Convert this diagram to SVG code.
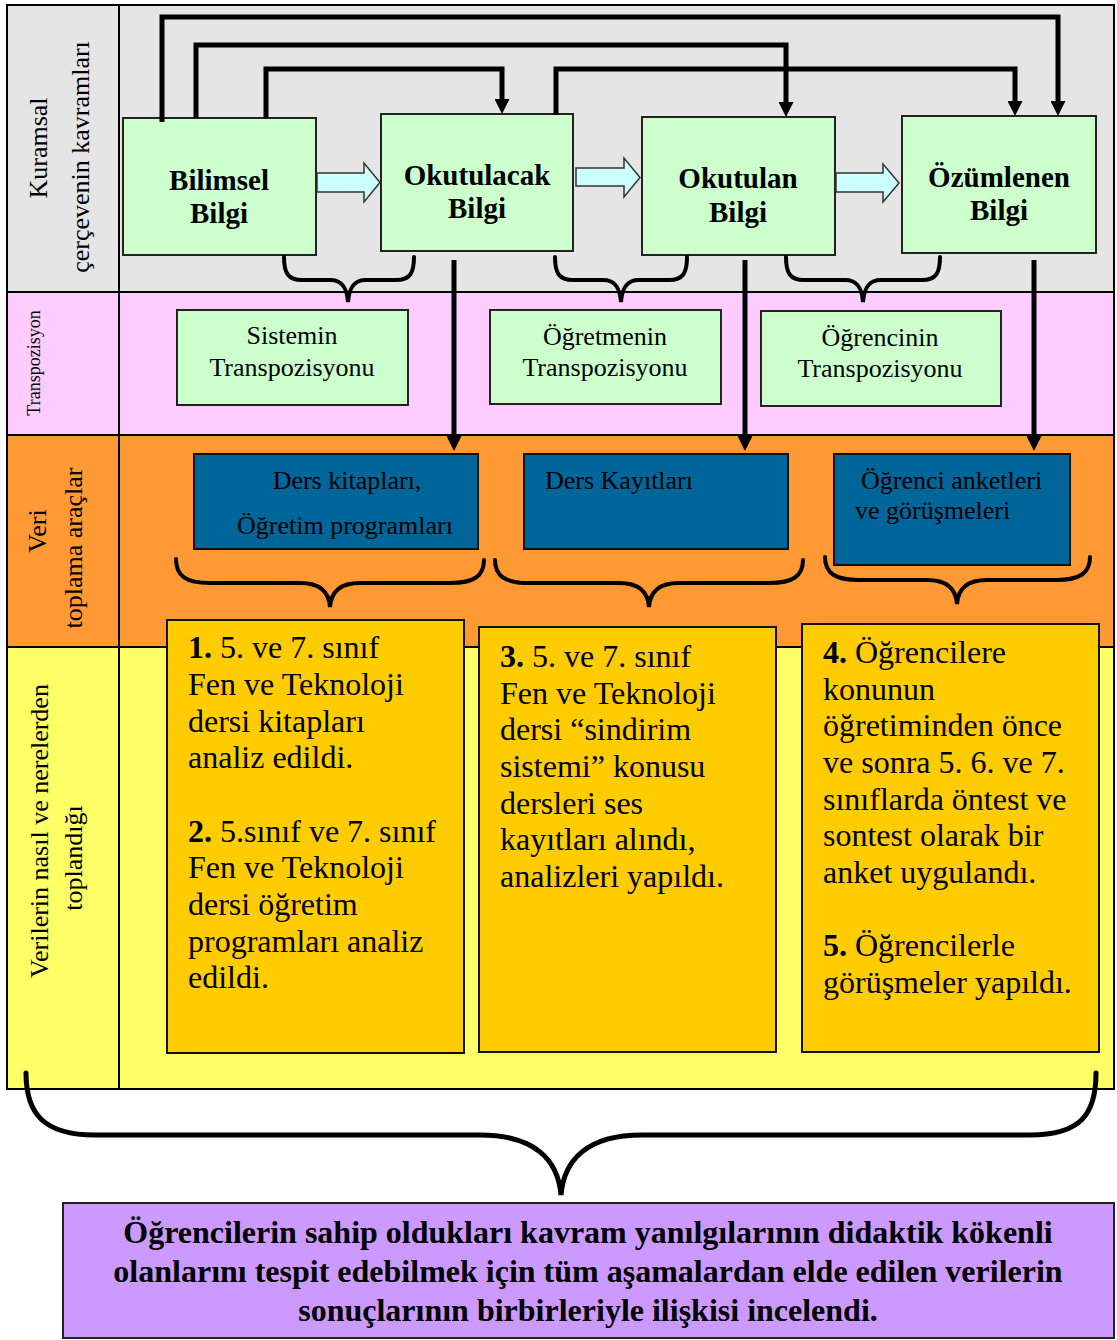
<svg xmlns="http://www.w3.org/2000/svg" width="1117" height="1340" viewBox="0 0 1117 1340" font-family="'Liberation Serif', 'DejaVu Serif', serif">
  <defs>
    <style>
      text { font-family: 'Liberation Serif', 'DejaVu Serif', serif; fill: #000; }
      .node { fill: #CCFFCC; stroke: #222; stroke-width: 2; }
      .tbox { fill: #CCFFCC; stroke: #222; stroke-width: 2; }
      .dbox { fill: #006699; stroke: #111; stroke-width: 2; }
      .ybox { fill: #FFCC00; stroke: #111; stroke-width: 2; }
      .grid { fill: none; stroke: #000; stroke-width: 2; }
      .conn { fill: none; stroke: #000; stroke-width: 5; stroke-linejoin: miter; marker-end: url(#head); }
      .brace { fill: none; stroke: #000; stroke-width: 4; stroke-linecap: round; }
      .block { fill: #CCFFFF; stroke: #333; stroke-width: 1.5; }
      .ttl { font-size: 29px; font-weight: bold; text-anchor: middle; }
      .tr { font-size: 26px; text-anchor: middle; }
      .side { font-size: 26px; text-anchor: middle; }
      .body { font-size: 32px; }
      .dt { font-size: 26px; }
      .sum { font-size: 32px; font-weight: bold; text-anchor: middle; }
    </style>
    <marker id="head" viewBox="0 0 15 15" refX="0" refY="7.5" markerWidth="15" markerHeight="15" markerUnits="userSpaceOnUse" orient="auto">
      <path d="M0,0 L15,7.5 L0,15 Z" fill="#000"/>
    </marker>
  </defs>

  <!-- Row bands -->
  <g id="bands">
    <rect x="7" y="5" width="1107" height="287" fill="#E5E5E5"/>
    <rect x="7" y="292" width="1107" height="143" fill="#FFCCFF"/>
    <rect x="7" y="435" width="1107" height="212" fill="#FF9933"/>
    <rect x="7" y="647" width="1107" height="442" fill="#FFFF66"/>
    <rect class="grid" x="7" y="5" width="1107" height="1084"/>
    <line class="grid" x1="119" y1="5" x2="119" y2="1089"/>
    <line class="grid" x1="7" y1="292" x2="1114" y2="292"/>
    <line class="grid" x1="7" y1="435" x2="1114" y2="435"/>
    <line class="grid" x1="7" y1="647" x2="1114" y2="647"/>
  </g>

  <!-- Row titles -->
  <g id="row-titles">
    <text class="side" transform="translate(47,148) rotate(-90)">Kuramsal</text>
    <text class="side" transform="translate(89,157) rotate(-90)">çerçevenin kavramları</text>
    <text class="side" style="font-size:18px" transform="translate(40,363) rotate(-90)">Transpozisyon</text>
    <text class="side" transform="translate(46,531) rotate(-90)">Veri</text>
    <text class="side" transform="translate(82,548) rotate(-90)">toplama araçlar</text>
    <text class="side" transform="translate(47.5,831) rotate(-90)">Verilerin nasıl ve nerelerden</text>
    <text class="side" transform="translate(82,858) rotate(-90)">toplandığı</text>
  </g>

  <!-- Knowledge nodes -->
  <g id="bilimsel">
    <rect class="node" x="123" y="118" width="193" height="137"/>
    <text class="ttl" x="219" y="190">Bilimsel</text>
    <text class="ttl" x="219" y="223">Bilgi</text>
  </g>
  <g id="okutulacak">
    <rect class="node" x="381" y="114" width="192" height="137"/>
    <text class="ttl" x="477" y="185">Okutulacak</text>
    <text class="ttl" x="477" y="218">Bilgi</text>
  </g>
  <g id="okutulan">
    <rect class="node" x="642" y="117" width="193" height="138"/>
    <text class="ttl" x="738" y="188">Okutulan</text>
    <text class="ttl" x="738" y="222">Bilgi</text>
  </g>
  <g id="ozumlenen">
    <rect class="node" x="902" y="116" width="194" height="137"/>
    <text class="ttl" x="999" y="187">Özümlenen</text>
    <text class="ttl" x="999" y="220">Bilgi</text>
  </g>

  <!-- Transposition nodes -->
  <g id="sistemin">
    <rect class="tbox" x="177" y="310" width="231" height="95"/>
    <text class="tr" x="292" y="344">Sistemin</text>
    <text class="tr" x="292" y="376">Transpozisyonu</text>
  </g>
  <g id="ogretmenin">
    <rect class="tbox" x="490" y="310" width="231" height="94"/>
    <text class="tr" x="605" y="345">Öğretmenin</text>
    <text class="tr" x="605" y="376">Transpozisyonu</text>
  </g>
  <g id="ogrencinin">
    <rect class="tbox" x="761" y="311" width="240" height="95"/>
    <text class="tr" x="880" y="346">Öğrencinin</text>
    <text class="tr" x="880" y="377">Transpozisyonu</text>
  </g>

  <!-- Data collection tools -->
  <g id="ders-kitaplari">
    <rect class="dbox" x="194" y="454" width="284" height="95"/>
    <text class="dt" x="347" y="489" text-anchor="middle">Ders kitapları,</text>
    <text class="dt" x="345" y="534" text-anchor="middle">Öğretim programları</text>
  </g>
  <g id="ders-kayitlari">
    <rect class="dbox" x="524" y="454" width="264" height="95"/>
    <text class="dt" x="545" y="489">Ders Kayıtları</text>
  </g>
  <g id="ogrenci-anketleri">
    <rect class="dbox" x="834" y="454" width="236" height="111"/>
    <text class="dt" x="861" y="489">Öğrenci anketleri</text>
    <text class="dt" x="855" y="519">ve görüşmeleri</text>
  </g>

  <!-- How the data were collected -->
  <g id="veri-1-2">
    <rect class="ybox" x="167" y="620" width="297" height="433"/>
    <text class="body" x="188" y="658"><tspan font-weight="bold">1.</tspan> 5. ve 7. sınıf</text>
    <text class="body" x="188" y="695">Fen ve Teknoloji</text>
    <text class="body" x="188" y="732">dersi kitapları</text>
    <text class="body" x="188" y="768">analiz edildi.</text>
    <text class="body" x="188" y="842"><tspan font-weight="bold">2.</tspan> 5.sınıf ve 7. sınıf</text>
    <text class="body" x="188" y="878">Fen ve Teknoloji</text>
    <text class="body" x="188" y="915">dersi öğretim</text>
    <text class="body" x="188" y="952">programları analiz</text>
    <text class="body" x="188" y="988">edildi.</text>
  </g>
  <g id="veri-3">
    <rect class="ybox" x="479" y="627" width="297" height="425"/>
    <text class="body" x="500" y="667"><tspan font-weight="bold">3.</tspan> 5. ve 7. sınıf</text>
    <text class="body" x="500" y="704">Fen ve Teknoloji</text>
    <text class="body" x="500" y="740">dersi “sindirim</text>
    <text class="body" x="500" y="777">sistemi” konusu</text>
    <text class="body" x="500" y="814">dersleri ses</text>
    <text class="body" x="500" y="850">kayıtları alındı,</text>
    <text class="body" x="500" y="887">analizleri yapıldı.</text>
  </g>
  <g id="veri-4-5">
    <rect class="ybox" x="802" y="624" width="297" height="428"/>
    <text class="body" x="823" y="663"><tspan font-weight="bold">4.</tspan> Öğrencilere</text>
    <text class="body" x="823" y="700">konunun</text>
    <text class="body" x="823" y="736">öğretiminden önce</text>
    <text class="body" x="823" y="773">ve sonra 5. 6. ve 7.</text>
    <text class="body" x="823" y="810">sınıflarda öntest ve</text>
    <text class="body" x="823" y="846">sontest olarak bir</text>
    <text class="body" x="823" y="883">anket uygulandı.</text>
    <text class="body" x="823" y="956"><tspan font-weight="bold">5.</tspan> Öğrencilerle</text>
    <text class="body" x="823" y="993">görüşmeler yapıldı.</text>
  </g>

  <!-- Conclusion -->
  <g id="sonuc">
    <rect x="63" y="1203" width="1051" height="135" fill="#CC99FF" stroke="#222" stroke-width="2"/>
    <text class="sum" x="588" y="1243">Öğrencilerin sahip oldukları kavram yanılgılarının didaktik kökenli</text>
    <text class="sum" x="588" y="1282">olanlarını tespit edebilmek için tüm aşamalardan elde edilen verilerin</text>
    <text class="sum" x="588" y="1321">sonuçlarının birbirleriyle ilişkisi incelendi.</text>
  </g>

  <!-- Connectors -->
  <g id="connectors">
    <!-- block arrows between knowledge stages -->
    <path class="block" d="M317,173 H364 V163 L380,182.5 L364,202 V192 H317 Z"/>
    <path class="block" d="M576,168 H624 V158 L640,177.5 L624,197 V186 H576 Z"/>
    <path class="block" d="M836,173 H883 V164 L899,183 L883,202 V192 H836 Z"/>

    <!-- elbow links over the top -->
    <path class="conn" d="M162,122 V17 H1058 V101"/>
    <path class="conn" d="M196,118 V45 H786 V102"/>
    <path class="conn" d="M266,118 V69 H502 V99"/>
    <path class="conn" d="M556,115 V69 H1015 V101"/>

    <!-- links down to the data tools -->
    <path class="conn" d="M454,260 V436"/>
    <path class="conn" d="M745,260 V436"/>
    <path class="conn" d="M1034,260 V436"/>

    <!-- braces under the knowledge nodes -->
    <path class="brace" d="M284,257 C284,273 288,280 302,280 L330,280 C343,280 347,289 348,302 C349,289 353,280 366,280 L396,280 C410,280 414,273 414,257"/>
    <path class="brace" d="M555,257 C555,273 559,280 573,280 L603,280 C616,280 620,289 621,302 C622,289 626,280 639,280 L669,280 C683,280 687,273 687,257"/>
    <path class="brace" d="M786,257 C786,273 790,280 804,280 L845,280 C858,280 862,289 863,302 C864,289 868,280 881,280 L922,280 C936,280 940,273 940,257"/>

    <!-- braces under the data tools -->
    <path class="brace" d="M176,559 C176,576 186,583 210,583 L300,583 C320,583 329,592 330,607 C331,592 340,583 360,583 L450,583 C474,583 484,576 484,560"/>
    <path class="brace" d="M495,560 C495,576 505,583 529,583 L619,583 C639,583 648,592 649,607 C650,592 659,583 679,583 L769,583 C793,583 803,576 803,560"/>
    <path class="brace" d="M825,557 C825,573 835,580 859,580 L927,580 C947,580 956,589 957,604 C958,589 967,580 987,580 L1056,580 C1080,580 1090,573 1090,557"/>

    <!-- large brace towards the conclusion -->
    <path class="brace" style="stroke-width:5" d="M26,1073 C26,1115 45,1135 95,1135 L480,1135 C535,1135 558,1160 561,1195 C564,1160 587,1135 642,1135 L1030,1135 C1080,1135 1096,1115 1096,1073"/>
  </g>
</svg>
